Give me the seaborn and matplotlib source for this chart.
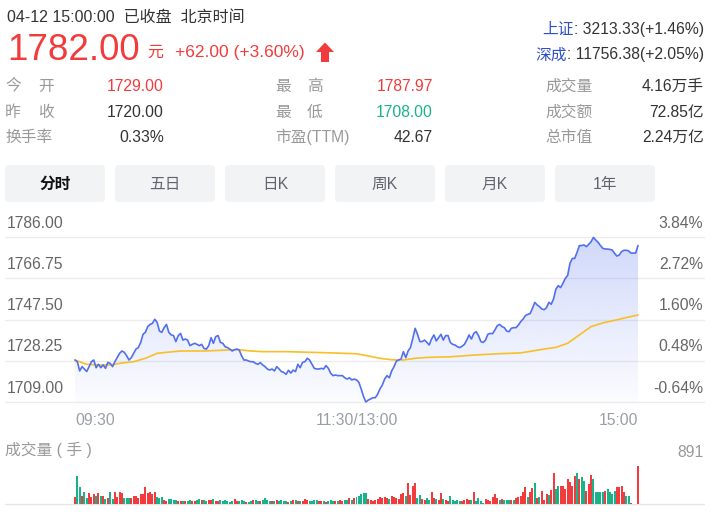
import numpy as np
import matplotlib
matplotlib.use("Agg")
import matplotlib.pyplot as plt
import seaborn as sns
from matplotlib.patches import FancyBboxPatch, Polygon
from matplotlib.colors import to_rgb

# ---------------- data ----------------
prev_close = 1720.00
price = [
    1728.6, 1727.8, 1723.5, 1725.5, 1724.4, 1723.2, 1725.5, 1727.8, 1728.6, 1725.0,
    1726.6, 1725.0, 1726.3, 1724.7, 1727.5, 1727.0, 1725.5, 1727.8, 1729.7, 1731.7,
    1732.8, 1732.2, 1730.6, 1728.6, 1729.7, 1731.7, 1733.7, 1734.4, 1736.8, 1740.6,
    1741.5, 1744.2, 1745.2, 1745.7, 1747.6, 1746.2, 1742.1, 1741.5, 1743.7, 1745.2,
    1741.5, 1740.3, 1740.0, 1737.2, 1740.0, 1741.0, 1737.9, 1738.4, 1737.9, 1735.3,
    1735.9, 1736.4, 1735.9, 1735.3, 1735.9, 1734.0, 1733.7, 1735.3, 1739.0, 1736.4,
    1739.5, 1740.0, 1736.8, 1736.4, 1734.8, 1734.4, 1733.7, 1732.8, 1733.4, 1733.7,
    1733.3, 1730.6, 1728.6, 1728.6, 1728.1, 1727.8, 1727.8, 1727.0, 1726.6, 1727.4,
    1726.3, 1725.5, 1724.4, 1723.9, 1724.4, 1723.5, 1725.5, 1724.4, 1723.2, 1722.8,
    1721.9, 1723.8, 1722.5, 1723.9, 1723.2, 1726.6, 1725.0, 1727.5, 1727.8, 1729.4,
    1728.6, 1726.6, 1724.7, 1724.4, 1724.4, 1724.7, 1724.4, 1726.0, 1724.7, 1722.4,
    1721.3, 1721.6, 1721.3, 1721.3, 1721.3, 1720.3, 1719.7, 1720.3, 1719.3, 1719.7, 1719.3,
    1718.2, 1715.1, 1711.5, 1709.0, 1709.9, 1710.4, 1711.0, 1711.0, 1712.6, 1715.1,
    1716.9, 1719.7, 1721.3, 1720.3, 1723.5, 1725.5, 1728.1, 1728.6, 1729.1, 1732.5,
    1729.7, 1732.8, 1734.4, 1738.7, 1743.4, 1740.6, 1737.2, 1737.2, 1737.9, 1736.8,
    1735.6, 1738.4, 1740.3, 1737.5, 1739.0, 1740.6, 1737.9, 1740.0, 1740.0, 1736.8,
    1735.9, 1735.6, 1734.8, 1734.4, 1735.0, 1735.9, 1737.9, 1740.3, 1738.4, 1741.0,
    1741.8, 1740.0, 1737.2, 1736.8, 1737.9, 1740.6, 1741.0, 1740.9, 1742.6, 1744.6,
    1745.2, 1744.2, 1743.7, 1742.1, 1741.8, 1743.4, 1743.7, 1743.7, 1744.9, 1746.5,
    1747.7, 1749.3, 1749.9, 1750.2, 1752.7, 1755.5, 1754.3, 1753.5, 1752.4, 1752.1,
    1753.0, 1755.5, 1754.6, 1757.1, 1761.7, 1763.3, 1762.4, 1764.4, 1766.7, 1768.0,
    1773.7, 1776.0, 1776.0, 1778.8, 1782.0, 1782.0, 1782.3, 1781.5, 1782.6, 1783.8,
    1785.8, 1784.6, 1783.5, 1782.0, 1780.7, 1780.4, 1780.4, 1780.2, 1779.9, 1778.4,
    1777.1, 1777.6, 1779.2, 1779.8, 1779.8, 1779.5, 1778.5, 1778.5, 1778.5, 1782.0,
]
avg_minutes = [0, 5, 10, 15, 20, 25, 30, 35, 40, 45, 50, 55, 60, 65, 70, 75, 80, 90, 100, 110,
               115, 120, 125, 130, 135, 140, 145, 150, 160, 170, 180, 190, 195, 200, 205, 210,
               215, 220, 225, 230, 235, 240]
avg_price = [1728.6, 1726.6, 1726.3, 1726.3, 1727.2, 1727.8, 1729.4, 1731.7, 1732.3, 1732.8,
             1732.8, 1732.8, 1733.0, 1733.3, 1733.4, 1732.8, 1732.5, 1732.5, 1732.2, 1731.9,
             1731.7, 1731.5, 1730.5, 1729.4, 1728.7, 1728.6, 1729.4, 1729.8, 1730.1, 1730.9,
             1731.5, 1731.9, 1732.8, 1733.7, 1734.5, 1736.4, 1740.3, 1744.2, 1745.9, 1747.1,
             1748.4, 1749.6]
volume = [
    171, 660, 404, 194, 287, 148, 249, 171, 225, 194,
    249, 194, 194, 117, 148, 287, 117, 287, 171, 287,
    249, 132, 132, 132, 132, 194, 194, 132, 225, 225,
    404, 249, 287, 225, 287, 171, 148, 171, 93, 70,
    117, 117, 85, 93, 70,
    70, 70, 62, 70, 93, 70, 78, 93, 117, 85, 93, 70, 85, 93, 117,
    78, 70, 101, 62, 93, 70, 55, 70, 117, 78,
    62, 93, 70, 55, 47, 62, 101, 85, 70, 62,
    93, 132, 85, 70, 62, 78, 93, 70, 101, 62,
    78, 55, 62, 93, 101, 78, 62, 70, 117, 85,
    70, 62, 85, 93, 70, 62, 78, 55, 70, 85,
    62, 70, 78, 101, 70, 85, 93, 148, 93, 132, 171,
    194, 225, 249, 249, 117, 93, 70, 93, 117, 171,
    148, 171, 132, 117, 194, 171, 148, 117, 225, 249,
    194, 482, 210, 427, 482, 148, 210, 117, 93, 132,
    93, 272, 148, 117, 93, 249, 117, 85, 70, 194,
    93, 70, 93, 70, 70, 85, 117, 93, 93,
    279, 72, 151, 72, 20, 119, 96, 72, 175, 231,
    151, 96, 119, 88, 88, 88, 88, 88, 151, 175,
    199, 279, 390, 175, 279, 374, 486, 151, 175, 295,
    96, 231, 215, 318, 716, 350, 414, 414, 414, 358,
    597, 517, 414, 653, 716, 597, 629, 533, 295, 470,
    677, 597, 271, 271, 271, 271, 295, 358, 271, 231,
    295, 390, 390, 414, 271, 199, 191, 16, 0, 0, 891,
]
# bar colours for the last 71 minutes (r = up, g = down)
late_start = 170
late_dirs = ("rggggrrrrr" "rgrgggrgrr" "rrrgrrgrgr" "rrgrrggrrr"
             "rrrrgrggrr" "rgggggrggg" "grrrrggrrrr")
minutes = list(range(len(price)))

yticks = [1786.00, 1766.75, 1747.50, 1728.25, 1709.00]
xtick_minutes = [0, 120, 240]
xtick_labels = ["09:30", "11:30/13:00", "15:00"]
tabs = ["分时", "五日", "日K", "周K", "月K", "1年"]
header = "04-12 15:00:00  已收盘  北京时间"
last_price = "1782.00"
unit = "元"
change_text = "+62.00 (+3.60%)"
col1_labels = [("今", "开"), ("昨", "收"), "换手率"]
col1_values = ["1729.00", "1720.00", "0.33%"]
col2_labels = [("最", "高"), ("最", "低"), "市盈(TTM)"]
col2_values = ["1787.97", "1708.00", "42.67"]
col3_labels = ["成交量", "成交额", "总市值"]
col3_values = ["4.16万手", "72.85亿", "2.24万亿"]
index_names = ["上证", "深成"]
index_values = [": 3213.33(+1.46%)", ": 11756.38(+2.05%)"]
volume_title = "成交量 ( 手 )"

# ---------------- style ----------------
W, H = 715, 521
sns.set_theme(style="white")
plt.rcParams["font.family"] = ["Liberation Sans", "Noto Sans CJK SC"]
plt.rcParams["axes.unicode_minus"] = False

RED = "#f23b3d"
GREEN = "#18b38b"
BLUE = "#5270ee"
YELLOW = "#f8bf27"
DARK = "#333333"
GRAY = "#999999"
TICK = "#666666"
TIMEC = "#9a9ea8"
GRID = "#ececec"
IDX_BLUE = "#2f50c8"
FS = 11.3

fig = plt.figure(figsize=(W / 100, H / 100), dpi=100)
fig.patch.set_facecolor("white")

bg = fig.add_axes([0, 0, 1, 1])
bg.set_xlim(0, W)
bg.set_ylim(H, 0)
bg.axis("off")


def T(x, y, s, size=FS, color=DARK, ha="left", va="baseline", weight="normal"):
    return bg.text(x, y, s, fontsize=size, color=color, ha=ha, va=va, fontweight=weight)


# header
T(7, 21.7, header, size=11.5)
T(7, 60, last_price, size=26.5, color=RED)
T(147, 57, unit, size=11.5, color=RED)
T(175, 57, change_text, size=12.5, color=RED)
bg.add_patch(Polygon([(325, 42.5), (334, 52), (329, 52), (329, 62), (321, 62), (321, 52), (316, 52)],
                     closed=True, color=RED, lw=0))

# stats rows
row_base = [90.7, 116.7, 141.7]
val_colors1 = [RED, DARK, DARK]
val_colors2 = [RED, GREEN, DARK]
for i in range(3):
    y = row_base[i]
    lab = col1_labels[i]
    if isinstance(lab, tuple):
        T(5, y, lab[0], color=GRAY)
        T(38, y, lab[1], color=GRAY)
    else:
        T(5, y, lab, color=GRAY)
    T(164, y, col1_values[i], color=val_colors1[i], ha="right")
    lab = col2_labels[i]
    if isinstance(lab, tuple):
        T(275, y, lab[0], color=GRAY)
        T(307, y, lab[1], color=GRAY)
    else:
        T(275, y, lab, color=GRAY)
    T(433, y, col2_values[i], color=val_colors2[i], ha="right")
    T(545, y, col3_labels[i], color=GRAY)
    T(704, y, col3_values[i], color=DARK, ha="right")

# index lines
renderer = fig.canvas.get_renderer()
for nm, val, yb in zip(index_names, index_values, [34.3, 59.5]):
    t = T(704, yb, val, color=DARK, ha="right")
    bb = t.get_window_extent(renderer=renderer)
    T(bb.x0, yb, nm, color=IDX_BLUE, ha="right")

# tabs
for i, lab in enumerate(tabs):
    x0 = 5 + 110 * i
    bg.add_patch(FancyBboxPatch((x0, 165), 100, 37, boxstyle="round,pad=0,rounding_size=4",
                                fc="#f2f3f5", ec="none"))
    bg.text(x0 + 50, 184, lab, ha="center", va="center", fontsize=FS,
            color="#111111" if i == 0 else "#5f6470",
            fontweight="bold" if i == 0 else "normal")

# ---------------- price chart ----------------
s = (638 - 75) / 240.0
xlim = ((5 - 75) / s, (705 - 75) / s)
k = (402 - 237) / (yticks[0] - yticks[-1])
ax = fig.add_axes([5 / W, 1 - 410 / H, 700 / W, (410 - 228) / H])

for v in yticks:
    ax.axhline(v, color=GRID, lw=1.0, zorder=0)
    ax.annotate(f"{v:.2f}", xy=(0, v), xycoords=("axes fraction", "data"),
                xytext=(2, 9.3), textcoords="offset pixels", ha="left", va="baseline",
                fontsize=FS, color=TICK)
    ax.annotate(f"{(v / prev_close - 1) * 100:.2f}%", xy=(1, v), xycoords=("axes fraction", "data"),
                xytext=(-2, 9.3), textcoords="offset pixels", ha="right", va="baseline",
                fontsize=FS, color=TICK)

poly = ax.fill_between(minutes, price, yticks[-1], facecolor="none", lw=0)
clip_path = poly.get_paths()[0]
grad = np.zeros((256, 1, 4))
grad[..., :3] = to_rgb(BLUE)
grad[:, 0, 3] = np.linspace(0.02, 0.27, 256)
im = ax.imshow(grad, extent=[0, minutes[-1], yticks[-1], yticks[0]], origin="lower",
               aspect="auto", zorder=1, interpolation="bilinear")
im.set_clip_path(clip_path, transform=ax.transData)

sns.lineplot(x=avg_minutes, y=avg_price, ax=ax, color=YELLOW, lw=1.2, zorder=2)
sns.lineplot(x=minutes, y=price, ax=ax, color=BLUE, lw=1.2, zorder=3)

for m, lab, ha in zip(xtick_minutes, xtick_labels, ["left", "center", "right"]):
    ax.annotate(lab, xy=(m, 0), xycoords=("data", "axes fraction"), xytext=(0, -15),
                textcoords="offset pixels", ha=ha, va="baseline", fontsize=FS, color=TIMEC)

ax.set_xlim(*xlim)
ax.set_ylim(yticks[-1] - (410 - 402) / k, yticks[0] + (237 - 228) / k)
ax.axis("off")

# ---------------- volume chart ----------------
vmax = max(volume)
vk = (504 - 466) / vmax
vax = fig.add_axes([5 / W, 1 - 506 / H, 700 / W, (506 - 462) / H])
colors = []
for i, p in enumerate(price):
    if i >= late_start:
        colors.append(RED if late_dirs[i - late_start] == "r" else GREEN)
    else:
        ref = prev_close if i == 0 else price[i - 1]
        colors.append(RED if p >= ref else GREEN)
vax.axhline(0, color="#e6e6e6", lw=1.0, zorder=0)
vax.bar(minutes, volume, width=0.85, color=colors, lw=0, zorder=2)
vax.set_xlim(*xlim)
vax.set_ylim(-(506 - 504) / vk, vmax + (466 - 462) / vk)
vax.axis("off")

T(5, 455, volume_title, color=GRAY)
T(704, 456.7, f"{vmax}", color=GRAY, ha="right")

fig.savefig("out.png", dpi=100, facecolor="white")
